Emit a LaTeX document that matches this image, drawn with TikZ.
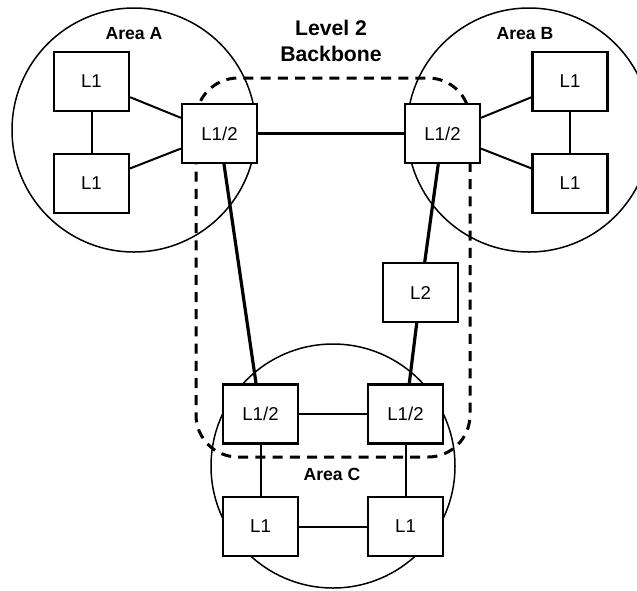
\documentclass[tikz,border=0pt]{standalone}
\usepackage{fontspec}
\setmainfont{Liberation Sans}

\begin{document}
\begin{tikzpicture}[x=0.5pt, y=-0.5pt, font=\fontsize{9.3}{11}\selectfont,
    router/.style={draw, line width=1.1pt, fill=white, inner sep=0pt,
                   minimum width=37.5pt, minimum height=29.5pt},
    area/.style={draw, circle, line width=0.75pt, inner sep=0pt, minimum size=122pt},
    arealabel/.style={font=\bfseries\fontsize{8.8}{10}\selectfont},
    titlelabel/.style={font=\bfseries\fontsize{10.6}{13}\selectfont, align=center},
    link/.style={line width=1pt},
    trunk/.style={line width=1.6pt},
    backbone/.style={line width=1.5pt, dash pattern=on 5pt off 3.6pt, rounded corners=21pt}]

\useasboundingbox (0,0) rectangle (637,590);

% areas
\node[area] (areaA) at (134,130) {};
\node[area] (areaB) at (529,130) {};
\node[area] (areaC) at (333,466) {};

% level 2 backbone
\draw[backbone] (196,78) rectangle (470,457);

\node[arealabel] (labA) at (134,34) {Area A};
\node[arealabel] (labB) at (525,34) {Area B};
\node[arealabel] (labC) at (332,474) {Area C};
\node[titlelabel] (labBB) at (331,41) {Level 2\\Backbone};

% routers
\node[router] (a1)  at (91.5,81.5)  {L1};
\node[router] (a2)  at (91.5,183.5) {L1};
\node[router] (a12) at (219.5,133.5) {L1/2};
\node[router] (b12) at (442.5,133.5) {L1/2};
\node[router] (b1)  at (570,81.5)  {L1};
\node[router] (b2)  at (570,183.5) {L1};
\node[router] (l2)  at (420.5,292.5) {L2};
\node[router] (c12l) at (260.5,414) {L1/2};
\node[router] (c12r) at (405.5,414) {L1/2};
\node[router] (c1l) at (260.5,526.5) {L1};
\node[router] (c1r) at (405.5,526.5) {L1};

% level 1 links
\draw[link] (a1) -- (a2);
\draw[link] (a1) -- (a12);
\draw[link] (a2) -- (a12);
\draw[link] (b1) -- (b2);
\draw[link] (b1) -- (b12);
\draw[link] (b2) -- (b12);
\draw[link] (c12l) -- (c12r);
\draw[link] (c12l) -- (c1l);
\draw[link] (c12r) -- (c1r);
\draw[link] (c1l) -- (c1r);

% level 2 links
\draw[trunk] (a12) -- (b12);
\draw[trunk] (a12) -- (c12l);
\draw[trunk] (b12) -- (l2);
\draw[trunk] (l2) -- (c12r);

\end{tikzpicture}
\end{document}
